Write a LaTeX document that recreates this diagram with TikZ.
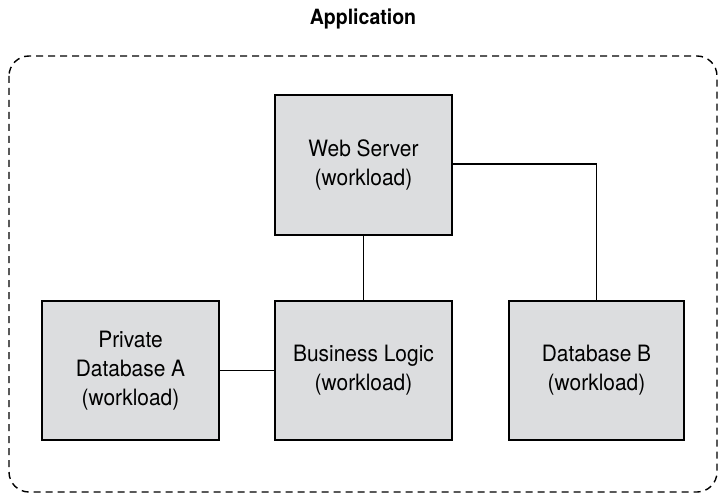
\documentclass[tikz,border=0pt]{standalone}
\usepackage{fontspec}
\setmainfont{TeX Gyre Heros}
\newfontfamily\narrowsans[FakeStretch=0.93]{TeX Gyre Heros}
\begin{document}
\begin{tikzpicture}[x=1pt,y=-1pt,
  workload/.style={draw=black, line width=1.6pt, fill=boxgray, align=center,
    inner sep=0pt, font=\narrowsans\fontsize{22.5}{29}\selectfont},
  link/.style={line width=1.9pt},
  boundary/.style={line width=1.4pt, dash pattern=on 7pt off 5pt, rounded corners=20pt}]
\definecolor{boxgray}{HTML}{DCDDDF}
\useasboundingbox (0,0) rectangle (719,494);
% application boundary
\draw[boundary] (9,56) rectangle (717,492);
\node[font=\narrowsans\fontsize{21}{24}\selectfont\bfseries] (title) at (363,19) {Application};
% workloads
\node[workload, minimum width=177pt, minimum height=140pt] (web) at (363.5,165) {Web Server\\(workload)};
\node[workload, minimum width=177pt, minimum height=139pt] (logic) at (363.5,370.5) {Business Logic\\(workload)};
\node[workload, minimum width=177pt, minimum height=139pt] (dba) at (130.5,370.5) {Private\\Database A\\(workload)};
\node[workload, minimum width=175pt, minimum height=139pt] (dbb) at (596.5,370.5) {Database B\\(workload)};
% connections
\draw[link] (web.south) -- (logic.north);
\draw[link] (dba.east) -- (logic.west);
\draw[link] (web.east |- 0,164) -| (dbb.north);
\end{tikzpicture}
\end{document}
